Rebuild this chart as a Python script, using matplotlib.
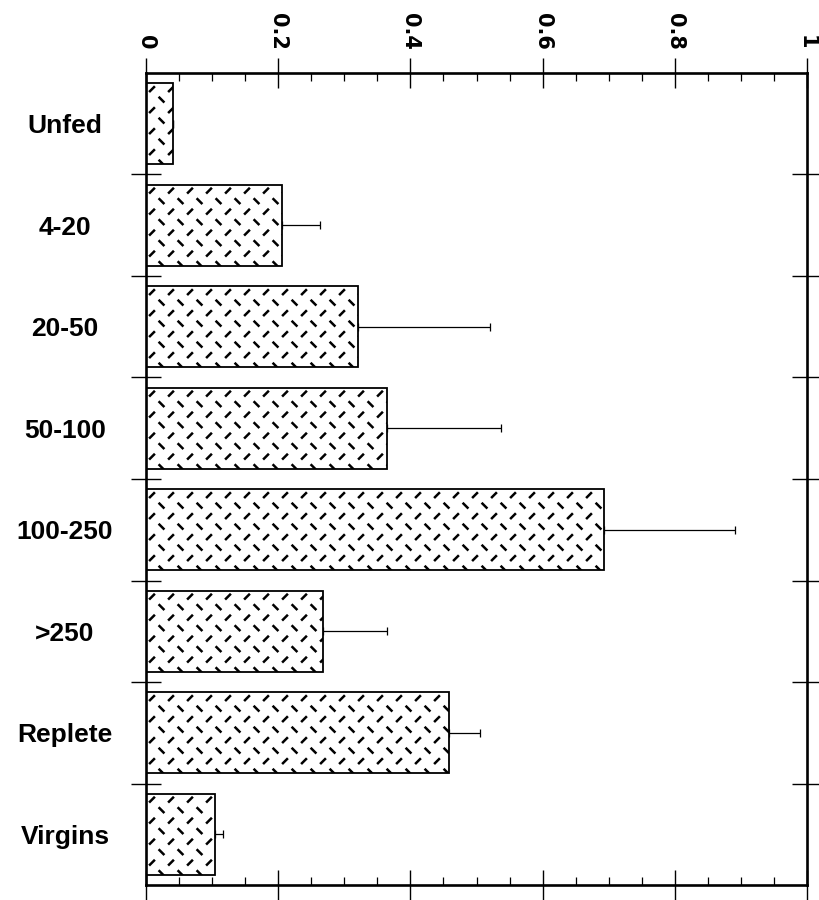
import matplotlib
matplotlib.use("Agg")
import matplotlib.pyplot as plt
import numpy as np
from matplotlib.collections import LineCollection

categories = ["Unfed", "4-20", "20-50", "50-100", "100-250", ">250", "Replete", "Virgins"]
means = [0.041, 0.206, 0.321, 0.365, 0.693, 0.268, 0.458, 0.104]
errors = [0.0, 0.057, 0.199, 0.172, 0.198, 0.097, 0.047, 0.012]
x_ticks = [0, 0.2, 0.4, 0.6, 0.8, 1.0]
x_ticklabels = ["0", "0.2", "0.4", "0.6", "0.8", "1"]

plt.rcParams['font.family'] = ['Liberation Sans', 'DejaVu Sans']

W, H = 819, 900
fig = plt.figure(figsize=(W / 100, H / 100), dpi=100)
L, R, T, B = 146, 807, 73, 885
ax = fig.add_axes([L / W, (H - B) / H, (R - L) / W, (B - T) / H])

n = len(categories)
ypos = np.arange(n)
ax.set_xlim(0, 1)
ax.set_ylim(n - 0.5, -0.5)

bars = ax.barh(ypos, means, height=0.8, color='white', edgecolor='black',
               linewidth=1.3, zorder=2)

# dashed diagonal texture inside bars
px_x = (R - L) / 1.0
px_y = (B - T) / n
row_sp = 10.5 / px_y
col_sp = 19.0 / px_x
dx = 2.9 / px_x
dy = 2.9 / px_y
for rect in bars:
    x0 = rect.get_x()
    w = rect.get_width()
    ytop = rect.get_y()
    hgt = rect.get_height()
    segs = []
    r = 0
    yy = ytop + 6.0 / px_y
    while yy < ytop + hgt:
        off = 6.0 / px_x + (r % 2) * col_sp / 2
        xx = x0 + off
        while xx < x0 + w + dx:
            if r % 2 == 0:
                segs.append([(xx - dx, yy + dy), (xx + dx, yy - dy)])
            else:
                segs.append([(xx - dx, yy - dy), (xx + dx, yy + dy)])
            xx += col_sp
        yy += row_sp
        r += 1
    lc = LineCollection(segs, colors='black', linewidths=1.8, zorder=3)
    ax.add_collection(lc)
    lc.set_clip_path(rect)

ax.errorbar(means, ypos, xerr=[np.zeros(n), errors], fmt='none', ecolor='black',
            elinewidth=0.9, capsize=3, capthick=0.9, zorder=1)

# x axis on top
ax.xaxis.set_ticks_position('both')
ax.set_xticks(x_ticks)
ax.set_xticklabels(x_ticklabels)
ax.set_xticks(np.arange(0.05, 1.0, 0.05), minor=True)
ax.tick_params(axis='x', which='major', direction='inout', length=22, width=1.0,
               labeltop=True, labelbottom=False, pad=6)
ax.tick_params(axis='x', which='minor', direction='in', length=6, width=0.9)
for lab in ax.get_xticklabels():
    lab.set_rotation(-90)
    lab.set_fontsize(15)
    lab.set_fontweight('bold')
    lab.set_family(['DejaVu Sans'])

# y axis: labels at category centres, boundary ticks as minor
ax.set_yticks(ypos)
ax.set_yticklabels(categories)
ax.set_yticks(np.arange(0.5, n - 0.5, 1.0), minor=True)
ax.yaxis.set_ticks_position('both')
ax.tick_params(axis='y', which='major', length=0, pad=(L - 65) * 0.72)
ax.tick_params(axis='y', which='minor', direction='inout', length=22, width=1.0)
for lab in ax.get_yticklabels():
    lab.set_ha('center')
    lab.set_fontsize(19)
    lab.set_fontweight('bold')

for sp in ax.spines.values():
    sp.set_linewidth(1.9)

fig.savefig("out.png", dpi=100, facecolor='white')
